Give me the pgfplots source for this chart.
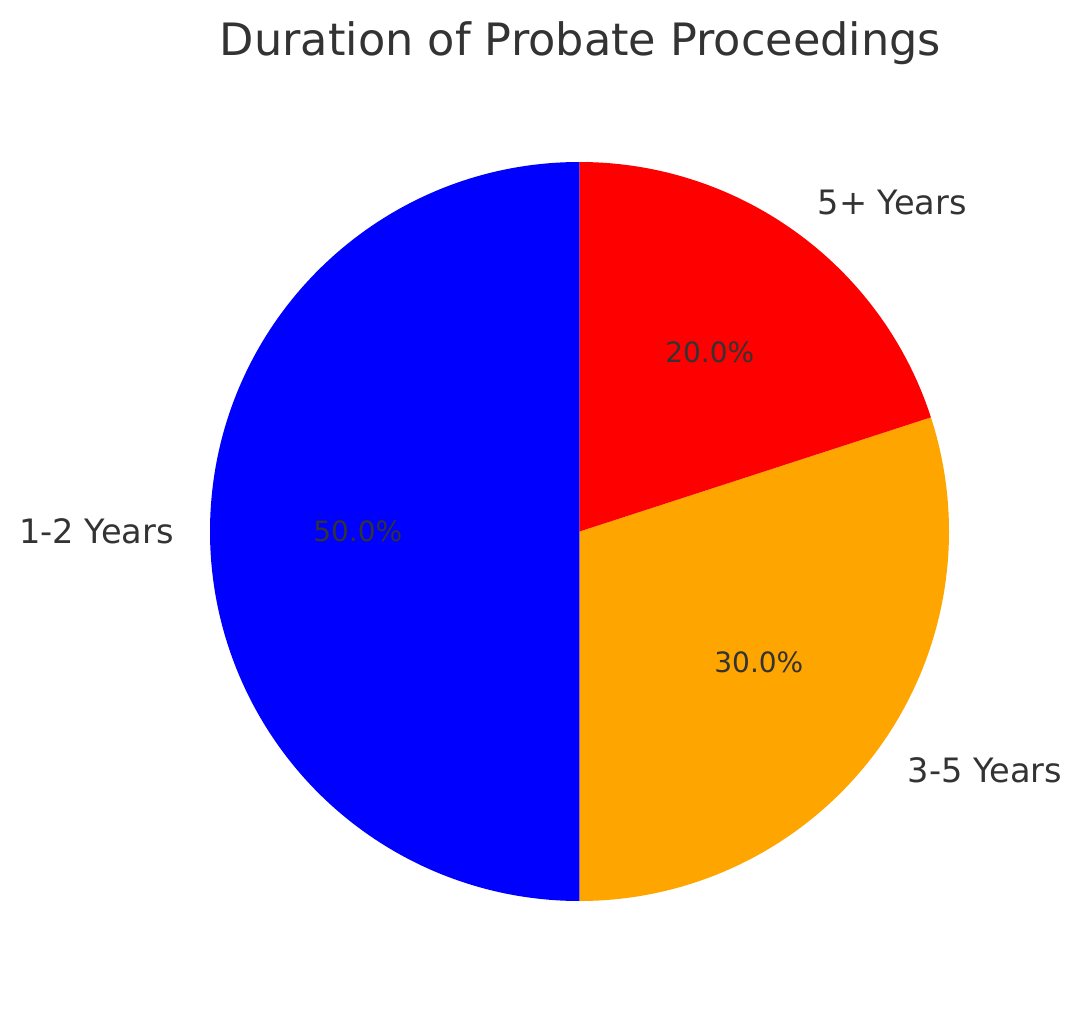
\documentclass[border=0pt]{standalone}
\usepackage{pgfplots}
\usepackage{pgfplotstable}
\pgfplotsset{compat=1.18}
\usetikzlibrary{calc}
\usepackage{fontspec}
\setmainfont{DejaVu Sans}

\definecolor{txt}{HTML}{333333}
\definecolor{sliceA}{RGB}{0,0,255}
\definecolor{sliceB}{RGB}{255,165,0}
\definecolor{sliceC}{RGB}{255,0,0}

% shares in percent, counter-clockwise from 90 degrees
\pgfplotstableread[col sep=comma]{
label,value
1-2 Years,50
3-5 Years,30
5+ Years,20
}\piedata

\begin{document}
\begin{tikzpicture}
  \pgfplotstablegetelem{0}{value}\of\piedata \pgfmathsetmacro\va{\pgfplotsretval}
  \pgfplotstablegetelem{1}{value}\of\piedata \pgfmathsetmacro\vb{\pgfplotsretval}
  \pgfplotstablegetelem{2}{value}\of\piedata \pgfmathsetmacro\vc{\pgfplotsretval}
  \pgfplotstablegetelem{0}{label}\of\piedata \let\la\pgfplotsretval
  \pgfplotstablegetelem{1}{label}\of\piedata \let\lb\pgfplotsretval
  \pgfplotstablegetelem{2}{label}\of\piedata \let\lc\pgfplotsretval
  \pgfmathsetmacro\aA{90}
  \pgfmathsetmacro\aB{\aA+3.6*\va}
  \pgfmathsetmacro\aC{\aB+3.6*\vb}
  \pgfmathsetmacro\aD{\aC+3.6*\vc}
  \pgfmathsetmacro\mA{(\aA+\aB)/2}
  \pgfmathsetmacro\mB{(\aB+\aC)/2}
  \pgfmathsetmacro\mC{(\aC+\aD)/2}
  \def\R{184.75pt}
  \begin{axis}[
    scale only axis,
    width=540.5pt, height=507pt,
    xmin=0, xmax=1081, ymin=0, ymax=1014,
    hide axis, clip=false,
    /pgf/number format/assume math mode=true,
  ]
    \path (axis cs:0,0) rectangle (axis cs:1081,1014);
    \coordinate (C) at (axis cs:579.5,482.5);
    \fill[sliceA] (C) -- ++(\aA:\R) arc[start angle=\aA, end angle=\aB, radius=\R] -- cycle;
    \fill[sliceB] (C) -- ++(\aB:\R) arc[start angle=\aB, end angle=\aC, radius=\R] -- cycle;
    \fill[sliceC] (C) -- ++(\aC:\R) arc[start angle=\aC, end angle=\aD, radius=\R] -- cycle;
    % category labels at 1.1 r
    \tikzset{catlbl/.style={txt, font=\fontsize{16.8}{20}\selectfont, inner xsep=-0.5pt}}
    \node[catlbl, anchor=east] at ($(C)+(\mA:1.1*\R)$) {\la};
    \node[catlbl, anchor=west] at ($(C)+(\mB:1.1*\R)$) {\lb};
    \node[catlbl, anchor=west] at ($(C)+(\mC:1.1*\R)$) {\lc};
    % percentages at 0.6 r
    \tikzset{pctlbl/.style={txt, font=\fontsize{14}{17}\selectfont}}
    \node[pctlbl] at ($(C)+(\mA:0.6*\R)$) {\pgfmathprintnumber[fixed,fixed zerofill,precision=1]{\va}\%};
    \node[pctlbl] at ($(C)+(\mB:0.6*\R)$) {\pgfmathprintnumber[fixed,fixed zerofill,precision=1]{\vb}\%};
    \node[pctlbl] at ($(C)+(\mC:0.6*\R)$) {\pgfmathprintnumber[fixed,fixed zerofill,precision=1]{\vc}\%};
    \node[txt, font=\fontsize{22.3}{26}\selectfont, anchor=base] at (axis cs:580.5,958) {Duration of Probate Proceedings};
  \end{axis}
\end{tikzpicture}
\end{document}
